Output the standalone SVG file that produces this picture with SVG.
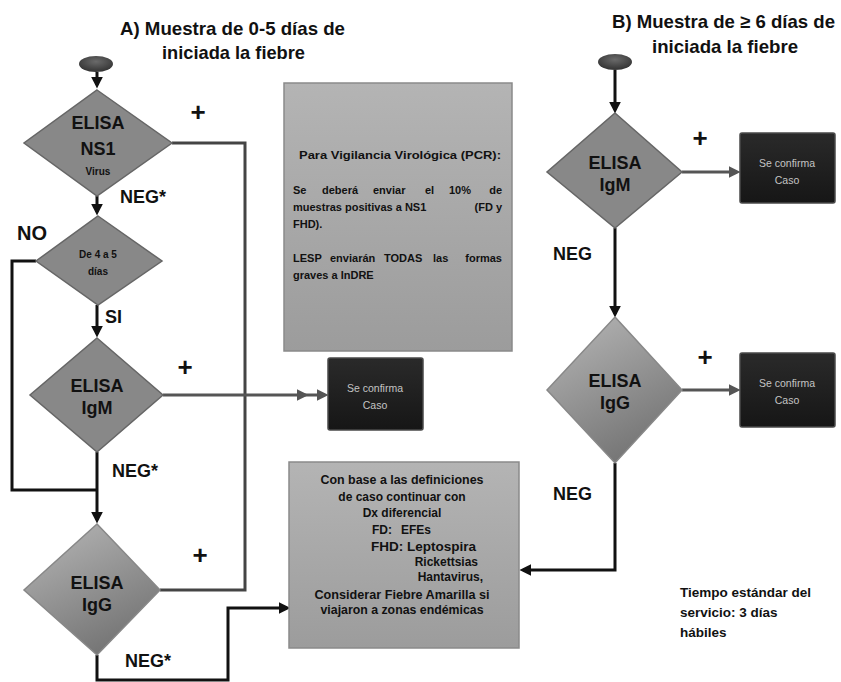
<svg xmlns="http://www.w3.org/2000/svg" width="841" height="682" viewBox="0 0 841 682">
<defs>
<style>
.t{font-family:"Liberation Sans",Arial,sans-serif;font-weight:bold;fill:#111}
.dia{fill:#888;stroke:#666;stroke-width:1.5}
.diag{fill:url(#gIgG);stroke:#888;stroke-width:1.5}
.gbox{fill:url(#gBox);stroke:#8a8a8a;stroke-width:1.5}
.cbox{fill:url(#gDark);stroke:#4a4a4a;stroke-width:1.5}
.ctext{font-family:"Liberation Sans",Arial,sans-serif;font-size:10.5px;fill:#c4c4c4;text-anchor:middle}
.el{font-size:18px;text-anchor:middle}
.plus{font-size:26px;text-anchor:middle}
.lbl{font-size:18px}
.bt{font-size:11px}
.bt2{font-size:12px}
.k{fill:none;stroke:#111;stroke-width:3}
.g{fill:none;stroke:#444;stroke-width:3}
.ga{fill:none;stroke:#555;stroke-width:3}
</style>
<linearGradient id="gIgG" x1="0" y1="0" x2="0.5" y2="1">
<stop offset="0" stop-color="#b8b8b8"/>
<stop offset="1" stop-color="#767676"/>
</linearGradient>
<linearGradient id="gBox" x1="0" y1="0" x2="0" y2="1">
<stop offset="0" stop-color="#b4b4b4"/>
<stop offset="1" stop-color="#9c9c9c"/>
</linearGradient>
<linearGradient id="gDark" x1="0" y1="0" x2="0" y2="1">
<stop offset="0" stop-color="#2a2a2a"/>
<stop offset="1" stop-color="#161616"/>
</linearGradient>
<radialGradient id="gStart" cx="0.5" cy="0.35" r="0.7">
<stop offset="0" stop-color="#6a6a6a"/>
<stop offset="1" stop-color="#2e2e2e"/>
</radialGradient>
<marker id="ak" markerUnits="userSpaceOnUse" markerWidth="12" markerHeight="12" refX="7" refY="5" orient="auto" viewBox="0 0 10 10">
<path d="M0,0 L10,5 L0,10 z" fill="#111"/>
</marker>
<marker id="ag" markerUnits="userSpaceOnUse" markerWidth="12" markerHeight="12" refX="7" refY="5" orient="auto" viewBox="0 0 10 10">
<path d="M0,0 L10,5 L0,10 z" fill="#555"/>
</marker>
</defs>
<rect width="841" height="682" fill="#fff"/>

<g id="titleA">
<text class="t" x="120" y="35" font-size="19" textLength="225" lengthAdjust="spacingAndGlyphs">A) Muestra de 0-5 días de</text>
<text class="t" x="162" y="59" font-size="19" textLength="143" lengthAdjust="spacingAndGlyphs">iniciada la fiebre</text>
</g>
<g id="titleB">
<text class="t" x="612" y="28" font-size="18.5" textLength="223" lengthAdjust="spacingAndGlyphs">B) Muestra de ≥ 6 días de</text>
<text class="t" x="652" y="53" font-size="19" textLength="146" lengthAdjust="spacingAndGlyphs">iniciada la fiebre</text>
</g>

<g id="connectors">
<path class="k" d="M97,72 V85" marker-end="url(#ak)"/>
<path class="k" d="M97,196 V212" marker-end="url(#ak)"/>
<path class="k" d="M36,261 H12 V490 H97"/>
<path class="k" d="M97,305 V334" marker-end="url(#ak)"/>
<path class="k" d="M97,452 V520" marker-end="url(#ak)"/>
<path class="g" d="M172,143 H245 V590 H160"/>
<path class="ga" d="M163,395 L305,395 L325,395" marker-mid="url(#ag)" marker-end="url(#ag)"/>
<path class="k" d="M97,655 V680 H228 V608 H287" marker-end="url(#ak)"/>
<path class="k" d="M615,70 V110" marker-end="url(#ak)"/>
<path class="ga" d="M682,172 H737" marker-end="url(#ag)"/>
<path class="k" d="M615,228 V314" marker-end="url(#ak)"/>
<path class="ga" d="M682,390 H737" marker-end="url(#ag)"/>
<path class="k" d="M615,463 V570 H523" marker-end="url(#ak)"/>
</g>

<g id="startA"><ellipse cx="96" cy="64" rx="17" ry="8" fill="url(#gStart)"/></g>
<g id="startB"><ellipse cx="615" cy="62" rx="17" ry="8" fill="url(#gStart)"/></g>

<g id="ns1">
<polygon class="dia" points="97,90 172,143 97,196 24,143"/>
<text class="t el" x="98" y="129">ELISA</text>
<text class="t el" x="98" y="155">NS1</text>
<text class="t" x="98" y="175" font-size="10" text-anchor="middle">Virus</text>
</g>
<g id="de45">
<polygon class="dia" points="98,216 162,261 98,305 36,261"/>
<text class="t" x="98" y="258" font-size="10" text-anchor="middle">De 4 a 5</text>
<text class="t" x="98" y="275" font-size="10" text-anchor="middle">días</text>
</g>
<g id="igmA">
<polygon class="dia" points="97,338 163,395 97,452 30,395"/>
<text class="t el" x="97" y="392">ELISA</text>
<text class="t el" x="97" y="414">IgM</text>
</g>
<g id="iggA">
<polygon class="diag" points="97,524 160,590 97,655 24,590"/>
<text class="t el" x="97" y="589">ELISA</text>
<text class="t el" x="97" y="611">IgG</text>
</g>
<g id="igmB">
<polygon class="dia" points="615,113 682,172 615,228 547,172"/>
<text class="t el" x="615" y="169">ELISA</text>
<text class="t el" x="615" y="191">IgM</text>
</g>
<g id="iggB">
<polygon class="diag" points="615,317 682,390 615,463 547,390"/>
<text class="t el" x="615" y="387">ELISA</text>
<text class="t el" x="615" y="409">IgG</text>
</g>

<g id="confirmA">
<rect class="cbox" x="328" y="358" width="95" height="72" rx="2"/>
<text class="ctext" x="375" y="392">Se confirma</text>
<text class="ctext" x="375" y="409">Caso</text>
</g>
<g id="confirmB1">
<rect class="cbox" x="740" y="133" width="95" height="70" rx="2"/>
<text class="ctext" x="787" y="167">Se confirma</text>
<text class="ctext" x="787" y="184">Caso</text>
</g>
<g id="confirmB2">
<rect class="cbox" x="740" y="353" width="95" height="74" rx="2"/>
<text class="ctext" x="787" y="387">Se confirma</text>
<text class="ctext" x="787" y="404">Caso</text>
</g>

<g id="pcrBox">
<rect class="gbox" x="284" y="83" width="228" height="268"/>
<text class="t bt" x="400" y="159" text-anchor="middle" textLength="202" lengthAdjust="spacingAndGlyphs">Para Vigilancia Virológica (PCR):</text>
<text class="t bt"><tspan x="293" y="194">Se</tspan><tspan x="322" y="194">deberá</tspan><tspan x="373" y="194">enviar</tspan><tspan x="425" y="194">el</tspan><tspan x="449" y="194">10%</tspan><tspan x="502" y="194" text-anchor="end">de</tspan></text>
<text class="t bt"><tspan x="293" y="211">muestras positivas a NS1</tspan><tspan x="502" y="211" text-anchor="end">(FD y</tspan></text>
<text class="t bt" x="293" y="228">FHD).</text>
<text class="t bt"><tspan x="293" y="262">LESP</tspan><tspan x="330" y="262">enviarán</tspan><tspan x="384" y="262">TODAS</tspan><tspan x="433" y="262">las</tspan><tspan x="502" y="262" text-anchor="end">formas</tspan></text>
<text class="t bt" x="293" y="279">graves a InDRE</text>
</g>

<g id="dxBox">
<rect class="gbox" x="289" y="462" width="230" height="186"/>
<text class="t bt2" x="402" y="484" text-anchor="middle" textLength="163" lengthAdjust="spacingAndGlyphs">Con base a las definiciones</text>
<text class="t bt2" x="402" y="501" text-anchor="middle">de caso continuar con</text>
<text class="t bt2" x="402" y="517" text-anchor="middle">Dx diferencial</text>
<text class="t bt2"><tspan x="372" y="534">FD:</tspan><tspan x="401" y="534">EFEs</tspan></text>
<text class="t bt2" x="371" y="551" textLength="105" lengthAdjust="spacingAndGlyphs">FHD: Leptospira</text>
<text class="t bt2" x="478" y="566" text-anchor="end">Rickettsias</text>
<text class="t bt2" x="483" y="581" text-anchor="end">Hantavirus,</text>
<text class="t bt2" x="402" y="599" text-anchor="middle" textLength="175" lengthAdjust="spacingAndGlyphs">Considerar Fiebre Amarilla si</text>
<text class="t bt2" x="402" y="614" text-anchor="middle" textLength="163" lengthAdjust="spacingAndGlyphs">viajaron a zonas endémicas</text>
</g>

<g id="labels">
<text class="t plus" x="198" y="121">+</text>
<text class="t plus" x="185" y="376">+</text>
<text class="t plus" x="200" y="564">+</text>
<text class="t plus" x="700" y="147">+</text>
<text class="t plus" x="705" y="366">+</text>
<text class="t" x="17" y="240" font-size="20">NO</text>
<text class="t" x="105" y="323" font-size="18">SI</text>
<text class="t lbl" x="120" y="203">NEG*</text>
<text class="t lbl" x="112" y="477">NEG*</text>
<text class="t lbl" x="125" y="667">NEG*</text>
<text class="t lbl" x="553" y="260">NEG</text>
<text class="t lbl" x="553" y="500">NEG</text>
</g>

<g id="tiempo">
<text class="t" x="680" y="597" font-size="13.5" fill="#333">Tiempo estándar del</text>
<text class="t" x="680" y="617" font-size="13.5" fill="#333">servicio: 3 días</text>
<text class="t" x="680" y="637" font-size="13.5" fill="#333">hábiles</text>
</g>
</svg>
